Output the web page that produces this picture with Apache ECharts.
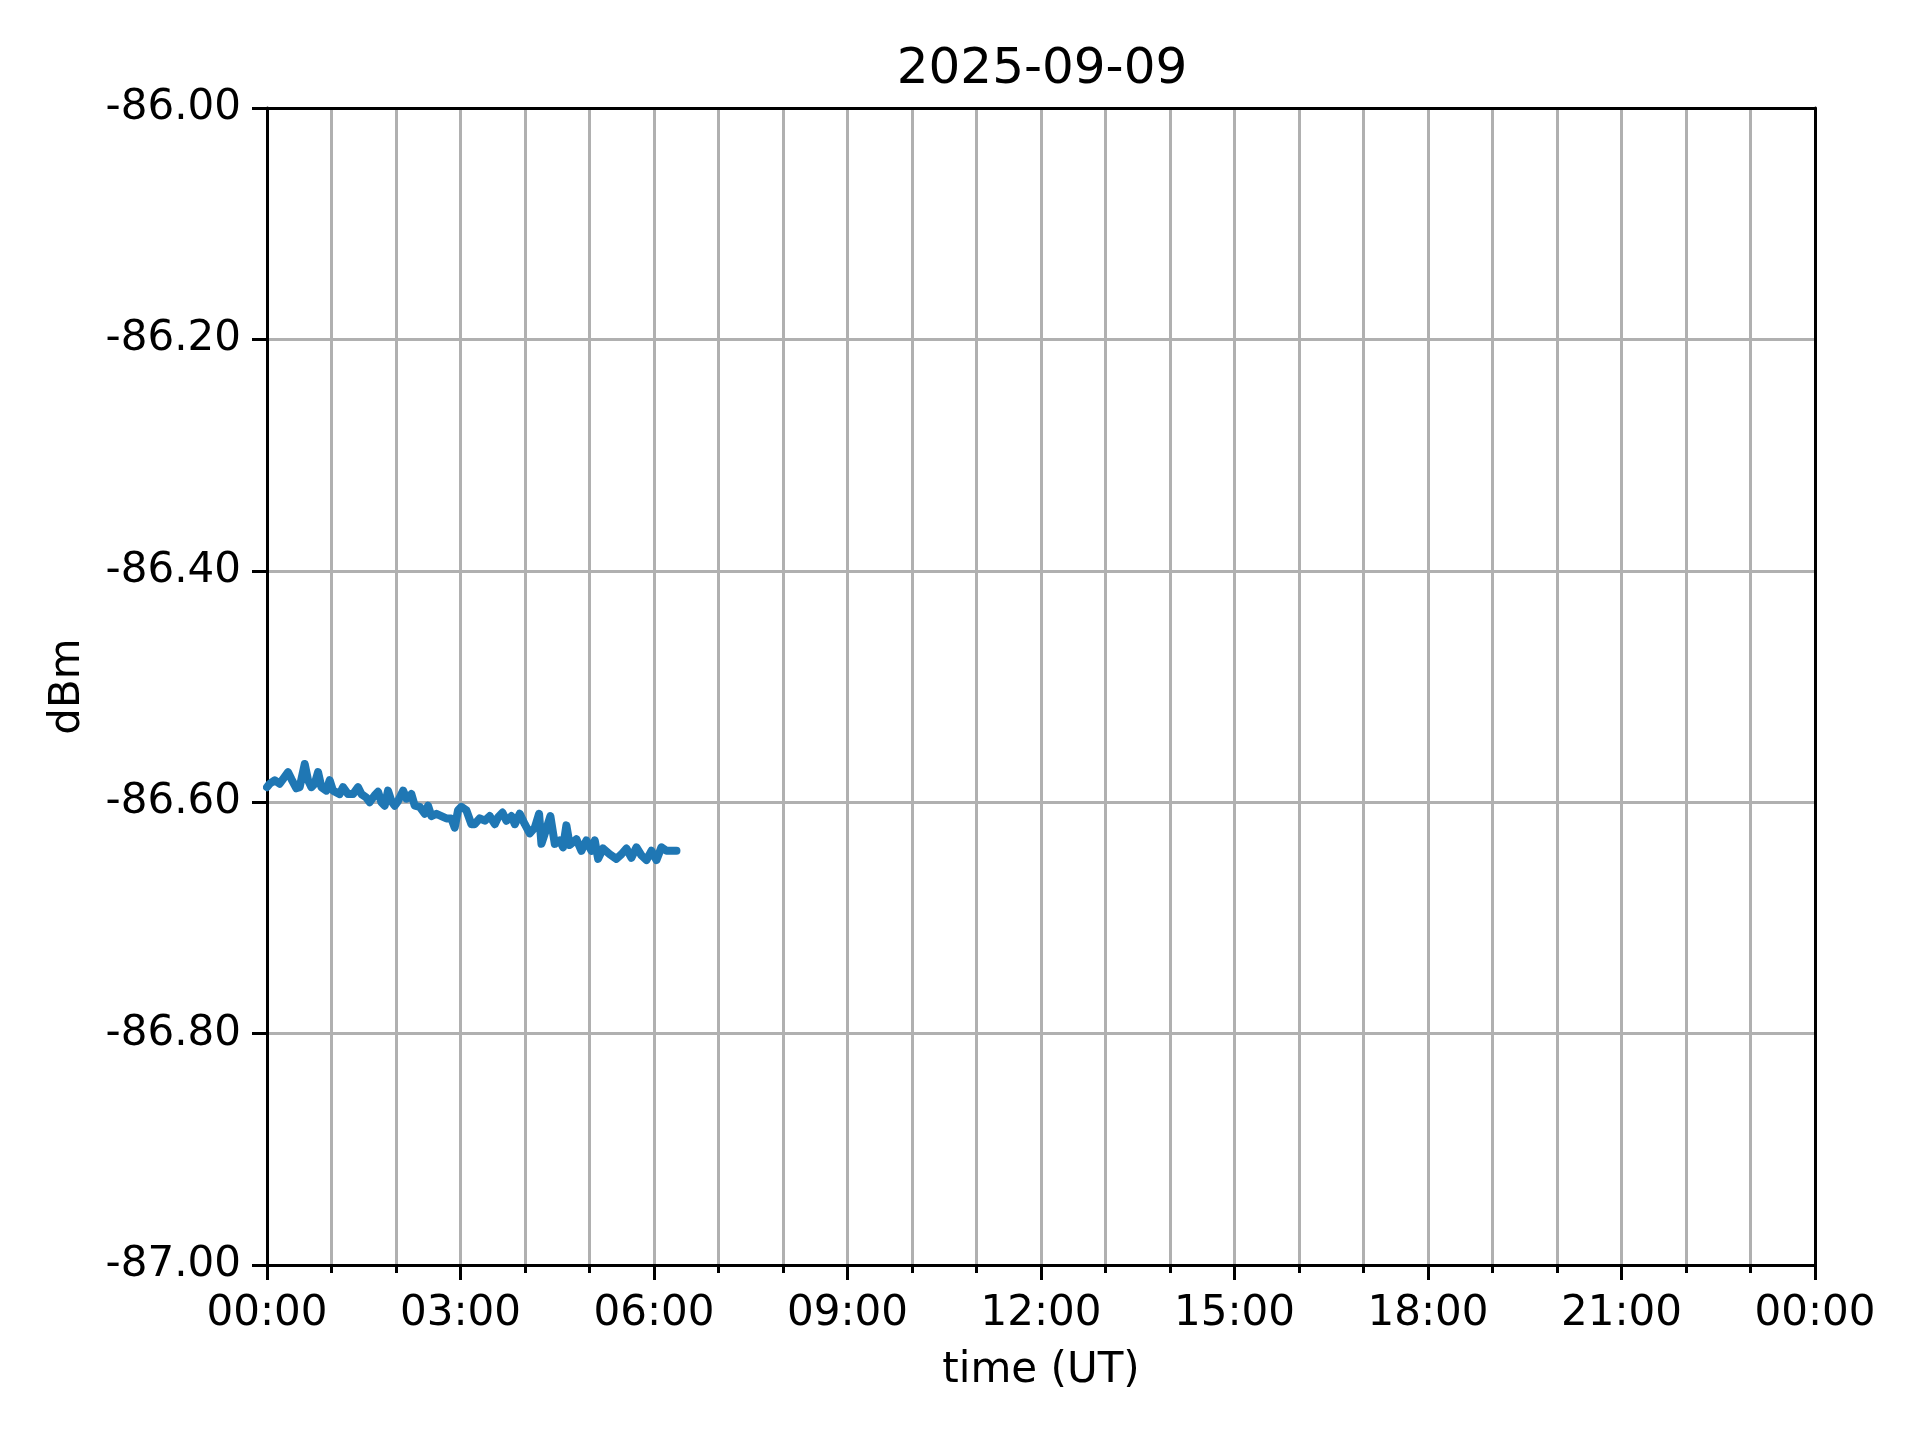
<!DOCTYPE html>
<html>
<head>
<meta charset="utf-8">
<title>2025-09-09</title>
<script src="https://cdn.jsdelivr.net/npm/echarts@6/dist/echarts.min.js"></script>
<style>
  html, body { margin: 0; padding: 0; background: #fff; }
  #chart { width: 1920px; height: 1440px; }
</style>
</head>
<body>
<div id="chart"></div>
<script>
// minutes after 00:00 UT
var minutes = [
  0, 2.5, 7.2, 11.8, 14.9, 19.6, 22.7, 27.3, 30.4, 35.1, 38.2, 41.3, 44.4, 47.5,
  50.6, 55.2, 58.3, 61.4, 67.6, 70.7, 75.4, 80.0, 84.7, 87.8, 92.4, 95.5, 100.2,
  103.3, 106.4, 109.5, 112.6, 115.7, 118.8, 121.9, 126.6, 129.7, 134.3, 137.4,
  142.1, 146.7, 149.8, 152.9, 157.6, 162.2, 166.9, 171.5, 174.6, 177.7, 180.8,
  185.5, 190.1, 193.2, 197.9, 202.6, 207.2, 211.9, 215.0, 219.0, 222.7, 227.4,
  230.5, 235.1, 239.8, 244.4, 249.1, 253.1, 255.3, 259.9, 263.6, 267.7, 272.3,
  275.4, 278.5, 281.6, 287.8, 292.5, 297.1, 301.8, 304.9, 308.0, 312.6, 318.8,
  325.0, 329.7, 334.3, 339.0, 343.7, 348.3, 353.0, 357.6, 362.3, 366.9, 371.6,
  376.2, 380.9
];
// received power, dBm
var dbm = [
  -86.587, -86.584, -86.581, -86.584, -86.580, -86.574, -86.580, -86.588, -86.587,
  -86.567, -86.581, -86.587, -86.584, -86.574, -86.587, -86.590, -86.581, -86.590,
  -86.593, -86.587, -86.593, -86.593, -86.587, -86.593, -86.596, -86.600, -86.594,
  -86.591, -86.600, -86.603, -86.590, -86.599, -86.603, -86.599, -86.590, -86.597,
  -86.593, -86.603, -86.604, -86.610, -86.603, -86.612, -86.610, -86.612, -86.614,
  -86.614, -86.622, -86.607, -86.604, -86.607, -86.619, -86.619, -86.614, -86.616,
  -86.612, -86.619, -86.613, -86.609, -86.616, -86.612, -86.619, -86.610, -86.619,
  -86.627, -86.622, -86.610, -86.636, -86.623, -86.612, -86.636, -86.633, -86.639,
  -86.620, -86.637, -86.632, -86.642, -86.633, -86.642, -86.633, -86.649, -86.640,
  -86.645, -86.649, -86.645, -86.640, -86.648, -86.639, -86.646, -86.650, -86.642,
  -86.650, -86.639, -86.642, -86.642, -86.642
];
var titleText = "2025-09-09";

var chart = echarts.init(document.getElementById("chart"), null, { renderer: "canvas" });
var font = "DejaVu Sans";
var gridStyle = { color: "#b0b0b0", width: 3 };
var spine = { show: true, onZero: false, lineStyle: { color: "#000", width: 3 } };

function hhmm(v) {
  var m = Math.round(v) % 1440;
  var h = Math.floor(m / 60), mm = m % 60;
  return (h < 10 ? "0" : "") + h + ":" + (mm < 10 ? "0" : "") + mm;
}

var option = {
  backgroundColor: "#fff",
  animation: false,
  title: {
    text: titleText,
    left: 1037,
    top: 40,
    textAlign: "center",
    textStyle: { fontFamily: font, fontSize: 50, fontWeight: "normal", color: "#000" }
  },
  grid: { left: 267, right: 105, top: 108, bottom: 175 },
  xAxis: [{
    type: "value",
    min: 0, max: 1440, interval: 180,
    name: "time (UT)",
    nameLocation: "middle",
    nameGap: 85,
    nameTextStyle: { fontFamily: font, fontSize: 42, color: "#000" },
    axisLine: spine,
    axisTick: { show: true, inside: false, length: 15, lineStyle: { color: "#000", width: 3 } },
    minorTick: { show: true, splitNumber: 3, length: 8, lineStyle: { color: "#000", width: 3 } },
    axisLabel: { fontFamily: font, fontSize: 42, color: "#000", margin: 28, formatter: hhmm },
    splitLine: { show: true, lineStyle: gridStyle },
    minorSplitLine: { show: true, lineStyle: gridStyle },
    z: 3
  }, {
    // top spine
    type: "value", position: "top", min: 0, max: 1440,
    axisLine: spine, axisTick: { show: false }, axisLabel: { show: false },
    splitLine: { show: false }, z: 3
  }],
  yAxis: [{
    type: "value",
    min: -87, max: -86, interval: 0.2,
    name: "dBm",
    nameLocation: "middle",
    nameGap: 178,
    nameRotate: 90,
    nameTextStyle: { fontFamily: font, fontSize: 42, color: "#000" },
    axisLine: spine,
    axisTick: { show: true, inside: false, length: 15, lineStyle: { color: "#000", width: 3 } },
    axisLabel: {
      fontFamily: font, fontSize: 42, color: "#000", margin: 26,
      formatter: function (v) { return v.toFixed(2); }
    },
    splitLine: { show: true, lineStyle: gridStyle },
    z: 3
  }, {
    // right spine
    type: "value", position: "right", min: -87, max: -86,
    axisLine: spine, axisTick: { show: false }, axisLabel: { show: false },
    splitLine: { show: false }, z: 3
  }],
  series: [{
    type: "line",
    xAxisIndex: 0,
    yAxisIndex: 0,
    data: minutes.map(function (m, i) { return [m, dbm[i]]; }),
    showSymbol: false,
    symbol: "none",
    lineStyle: { color: "#1f77b4", width: 8, cap: "round", join: "round" },
    z: 5
  }]
};

chart.setOption(option);
</script>
</body>
</html>
